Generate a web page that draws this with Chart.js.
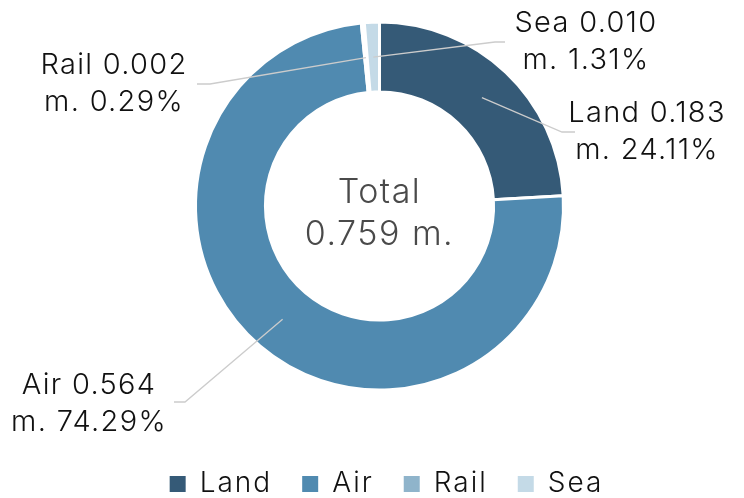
<!DOCTYPE html>
<html>
<head>
<meta charset="utf-8">
<script src="https://cdn.jsdelivr.net/npm/chart.js@4.4.1/dist/chart.umd.min.js"></script>
<style>
  body { margin: 0; background: #fff; }
  #wrap { width: 744px; height: 498px; }
</style>
</head>
<body>
<div id="wrap"><canvas id="donutChart" width="744" height="498"></canvas></div>
<script>
var modes = ["Land", "Air", "Rail", "Sea"];
var volumes = [0.183, 0.564, 0.002, 0.010];
var shares = [24.11, 74.29, 0.29, 1.31];
var totalVolume = 0.759;
var sliceColors = ["#355a77", "#508ab0", "#8fb4cb", "#c4dae7"];

// where each label sits, and the elbow of its leader line
var labelPos = [
    { x: 647, y: 113, ex: 562, ey: 132, hx: 575 },
    { x: 89, y: 385, ex: 185, ey: 402, hx: 174 },
    { x: 114, y: 65, ex: 210, ey: 84, hx: 197 },
    { x: 586, y: 23, ex: 495, ey: 42, hx: 505 }
];

var fontName = "Inter, 'Noto Sans', sans-serif";

// wider spacing so the text runs as long as in the original
var spacingPlugin = {
    id: 'spacing',
    beforeLayout: function (chart) { chart.ctx.letterSpacing = '2px'; },
    afterLayout: function (chart) {
        // lift the ring a little and nudge the legend right
        chart.chartArea.top -= 14;
        chart.chartArea.bottom -= 14;
        chart.legend.left += 7;
        chart.legend.right += 7;
    },
    beforeDraw: function (chart) { chart.ctx.letterSpacing = '2px'; }
};

var calloutPlugin = {
    id: 'callouts',
    afterDatasetsDraw: function (chart) {
        var ctx = chart.ctx;
        var arcs = chart.getDatasetMeta(0).data;
        ctx.save();
        for (var i = 0; i < arcs.length; i++) {
            var a = arcs[i].getProps(['x', 'y', 'startAngle', 'endAngle', 'innerRadius', 'outerRadius'], true);
            var mid = (a.startAngle + a.endAngle) / 2;
            var r = (a.innerRadius + a.outerRadius) / 2;
            var sx = a.x + Math.cos(mid) * r;
            var sy = a.y + Math.sin(mid) * r;
            var p = labelPos[i];
            ctx.strokeStyle = '#cccccc';
            ctx.lineWidth = 1.3;
            ctx.beginPath();
            ctx.moveTo(sx, sy);
            ctx.lineTo(p.ex, p.ey);
            ctx.lineTo(p.hx, p.ey);
            ctx.stroke();

            ctx.fillStyle = '#111111';
            ctx.font = '300 29px ' + fontName;
            ctx.letterSpacing = '1.3px';
            ctx.textAlign = 'center';
            ctx.textBaseline = 'middle';
            ctx.fillText(modes[i] + ' ' + volumes[i].toFixed(3), p.x, p.y);
            ctx.fillText('m. ' + shares[i].toFixed(2) + '%', p.x, p.y + 37);
        }
        // centre text
        var c = arcs[0];
        ctx.fillStyle = '#4a4a4a';
        ctx.font = '300 34px ' + fontName;
        ctx.letterSpacing = '1.5px';
        ctx.fillText('Total', c.x, c.y - 13);
        ctx.fillText(totalVolume.toFixed(3) + ' m.', c.x, c.y + 29);
        ctx.restore();
    }
};

var ctx1 = document.getElementById("donutChart");
var myDonut = new Chart(ctx1, {
    type: 'doughnut',
    data: {
        labels: modes,
        datasets: [{
            data: volumes,
            backgroundColor: sliceColors,
            borderColor: '#ffffff',
            borderWidth: 3,
            clip: false
        }]
    },
    options: {
        responsive: false,
        devicePixelRatio: 1,
        animation: false,
        radius: 184,
        cutout: '62%',
        layout: { padding: { left: 15, top: -20, bottom: -10 } },
        plugins: {
            tooltip: { enabled: false },
            legend: {
                position: 'bottom',
                labels: {
                    boxWidth: 16,
                    boxHeight: 16,
                    padding: 30,
                    color: '#111111',
                    font: { family: fontName, size: 28, weight: '300' },
                    generateLabels: function (chart) {
                        var items = Chart.overrides.doughnut.plugins.legend.labels.generateLabels(chart);
                        items.forEach(function (it) { it.lineWidth = 0; });
                        return items;
                    }
                }
            }
        }
    },
    plugins: [spacingPlugin, calloutPlugin]
});
</script>
</body>
</html>
